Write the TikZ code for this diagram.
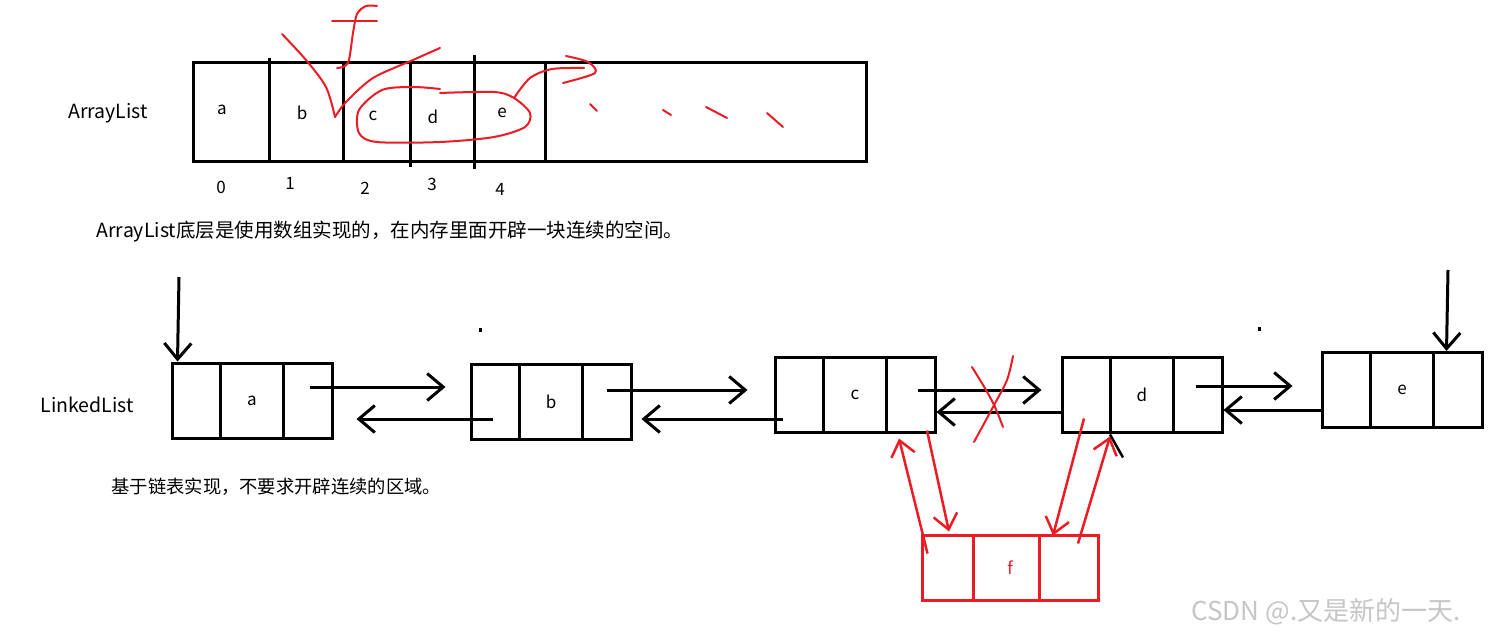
\documentclass[tikz,border=0pt]{standalone}
\usepackage{fontspec}
\setmainfont{Noto Sans CJK SC}
\usepackage{tikz}
\usetikzlibrary{arrows.meta,calc}
\definecolor{paintred}{RGB}{237,28,36}

\begin{document}
\begin{tikzpicture}[x=1pt, y=-1pt,
    cell/.style={draw, line width=3pt, minimum width=160pt, minimum height=75pt, inner sep=0pt, font=\fontsize{17}{20}\selectfont},
    link/.style={-{Straight Barb[length=16pt, width=27pt]}, line width=3pt},
    redlink/.style={-{Straight Barb[length=15pt, width=24pt]}, line width=2.5pt, draw=paintred},
    scribble/.style={draw=paintred, line width=2pt, line cap=round, line join=round},
    txt/.style={font=\fontsize{19.5}{22}\selectfont},
    small/.style={font=\fontsize{17}{20}\selectfont}
]
    \fill[white] (0,0) rectangle (1504,640);
    \useasboundingbox (0,0) rectangle (1504,640);

    % ArrayList: one block of cells
    \node[txt] (arrname) at (108,113) {ArrayList};
    \node[draw, line width=3pt, minimum width=673pt, minimum height=99pt, inner sep=0pt] (arr) at (529.5,111.5) {};
    \foreach \dx/\up/\dn in {78/-3/0, 152/0/0, 219/0/4, 283/-6/6, 354/0/0}
        \draw[line width=3pt] ([shift={(\dx,\up)}]arr.north west) -- ([shift={(\dx,\dn)}]arr.south west);
    \foreach \t/\px/\py in {a/222/110, b/302/113, c/373/116, d/433/117, e/502/113}
        \node[small] (cell\t) at (\px,\py) {\t};
    \foreach \t/\px/\py in {0/221/187, 1/290/183, 2/365/188, 3/432/184, 4/500/189}
        \node[small] (idx\t) at (\px,\py) {\t};
    \node[txt, anchor=west] (arrnote) at (93,232) {ArrayList底层是使用数组实现的，在内存里面开辟一块连续的空间。};

    % red marks on the array
    \draw[scribble] plot[smooth] coordinates {(282,34) (306,60) (326,87) (335,117)};
    \draw[scribble] plot[smooth] coordinates {(335,117) (346,102) (373,78) (413,60) (440,48)};
    \draw[scribble] plot[smooth] coordinates {(337,68) (348,63) (353,33) (357,14) (366,6) (377,6)};
    \draw[scribble] (332,21) -- (377,21);
    \draw[scribble] plot[smooth] coordinates {(440,93) (494,92) (514,98) (530,113) (525,127) (494,137) (440,142) (377,142) (359,133) (359,110) (382,90) (413,87) (440,89)};
    \draw[scribble] plot[smooth] coordinates {(514,98) (530,78) (552,69) (584,68)};
    \draw[scribble] plot[smooth] coordinates {(566,56) (588,62) (595,73) (563,83)};
    \draw[scribble] (590,104) -- (597,111) (663,110) -- (671,115) (706,107) -- (727,118) (767,113) -- (783,127);

    % LinkedList nodes
    \node[txt] (listname) at (87,405) {LinkedList};
    \node[cell] (na) at (252,400.5) {a};
    \node[cell] (nb) at (551,401.5) {b};
    \node[cell] (nc) at (855,394.5) {c};
    \node[cell] (nd) at (1142,394.5) {d};
    \node[cell] (ne) at (1402,390) {e};
    \foreach \n in {na,nb,nc,nd,ne}
        \draw[line width=3pt] ([shift={(-32,0)}]\n.north) -- ([shift={(-32,0)}]\n.south)
                              ([shift={(31,0)}]\n.north) -- ([shift={(31,0)}]\n.south);
    \node[cell, draw=paintred, text=paintred, minimum width=176pt, minimum height=65pt] (nf) at (1010,567.5) {f};
    \draw[paintred, line width=3pt] ([shift={(-37,0)}]nf.north) -- ([shift={(-37,0)}]nf.south)
                                    ([shift={(29,0)}]nf.north) -- ([shift={(29,0)}]nf.south);
    \node[txt, font=\fontsize{18.3}{22}\selectfont, anchor=west] (listnote) at (108,487) {基于链表实现，不要求开辟连续的区域。};

    % head and tail pointers
    \coordinate (headin) at (179,277);
    \coordinate (tailin) at (1448,270);
    \draw[link] (headin) -- ([shift={(7,0)}]na.north west);
    \draw[link] (tailin) -- ([shift={(126,0)}]ne.north west);
    \fill (479,328) rectangle (482,332);
    \fill (1258,327) rectangle (1261,331);

    % next / prev links
    \draw[link] ([shift={(-24,-13.5)}]na.east) -- ([shift={(-24,-13.5)}]na.east -| nb.west);
    \draw[link] ([shift={(23,17.5)}]nb.west) -- ([shift={(23,17.5)}]nb.west -| na.east);
    \draw[link] ([shift={(-26,-11.5)}]nb.east) -- ([shift={(-26,-11.5)}]nb.east -| nc.west);
    \draw[link] ([shift={(9,24.5)}]nc.west) -- ([shift={(9,24.5)}]nc.west -| nb.east);
    \draw[link] ([shift={(-19,-4.5)}]nc.east) -- ([shift={(-19,-4.5)}]nc.east -| nd.west);
    \draw[link] ([shift={(0,17.5)}]nd.west) -- ([shift={(0,17.5)}]nd.west -| nc.east);
    \draw[link] ([shift={(-28,-8.5)}]nd.east) -- ([shift={(-28,-8.5)}]nd.east -| ne.west);
    \draw[link] ([shift={(0,20)}]ne.west) -- ([shift={(0,20)}]ne.west -| nd.east);

    % cut c-d and insert f
    \draw[scribble] plot[smooth] coordinates {(972,367) (986,390) (995,407) (1003,427)};
    \draw[scribble] plot[smooth] coordinates {(1013,356) (1007,380) (993,407) (974,442)};
    \draw[redlink] ([shift={(72,-3)}]nc.south) -- ([shift={(-61,-2)}]nf.north);
    \draw[redlink] ([shift={(7,20)}]nf.north west) -- ([shift={(44,5)}]nc.south);
    \draw[redlink] ([shift={(-58,-15)}]nd.south) -- ([shift={(43,2)}]nf.north);
    \draw[redlink] ([shift={(68,10)}]nf.north) -- ([shift={(-32,3)}]nd.south);
    \draw[line width=2.5pt] ([shift={(-32,1)}]nd.south) -- ++(13,23);

    \node[anchor=west, text=gray!45, font=\fontsize{26}{30}\selectfont] (mark) at (1188,612) {CSDN @.又是新的一天.};
\end{tikzpicture}
\end{document}
